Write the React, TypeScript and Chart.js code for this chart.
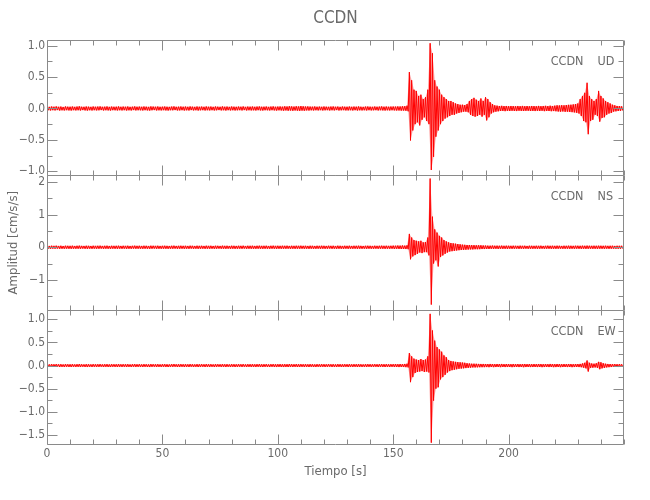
import React, { useEffect, useRef } from "react";
import { Chart, registerables } from "chart.js";

Chart.register(...registerables);

// ---------------- data ----------------
const TITLE = "CCDN";
const STATION = "CCDN";
const X_TITLE = "Tiempo [s]";
const Y_TITLE = "Amplitud [cm/s/s]";
const COMPONENTS = ["UD", "NS", "EW"];

// time axis (s)
const TIME_RANGE = [0, 250];
const BIN_SECONDS = 1; // each entry below = max / min of the trace within a 1 s bin
const X_MINOR_STEP = 10;
const X_TICK_VALUES = [0, 50, 100, 150, 200];
const X_TICK_LABELS = ["0", "50", "100", "150", "200"];

// y axes
const UD_RANGE = [-1.064, 1.085];
const UD_MINOR_STEP = 0.25;
const UD_TICK_VALUES = [-1, -0.5, 0, 0.5, 1];
const UD_TICK_LABELS = ["\u22121.0", "\u22120.5", "0.0", "0.5", "1.0"];

const NS_RANGE = [-1.93, 2.21];
const NS_MINOR_STEP = 0.5;
const NS_TICK_VALUES = [-1, 0, 1, 2];
const NS_TICK_LABELS = ["\u22121", "0", "1", "2"];

const EW_RANGE = [-1.72, 1.2];
const EW_MINOR_STEP = 0.25;
const EW_TICK_VALUES = [-1.5, -1, -0.5, 0, 0.5, 1];
const EW_TICK_LABELS = ["\u22121.5", "\u22121.0", "\u22120.5", "0.0", "0.5", "1.0"];

// UD component, upper / lower envelope per second (cm/s/s)
const UD_MAX = [
  0.030, 0.026, 0.031, 0.028, 0.033, 0.027, 0.030, 0.025, 0.032, 0.029,
  0.028, 0.031, 0.026, 0.030, 0.034, 0.028, 0.027, 0.031, 0.029, 0.026,
  0.031, 0.028, 0.030, 0.033, 0.027, 0.029, 0.032, 0.026, 0.030, 0.028,
  0.029, 0.032, 0.027, 0.030, 0.028, 0.031, 0.026, 0.029, 0.033, 0.028,
  0.030, 0.027, 0.031, 0.029, 0.026, 0.032, 0.030, 0.028, 0.031, 0.027,
  0.029, 0.031, 0.028, 0.026, 0.030, 0.033, 0.027, 0.029, 0.031, 0.028,
  0.030, 0.027, 0.032, 0.029, 0.026, 0.031, 0.028, 0.030, 0.027, 0.032,
  0.028, 0.030, 0.026, 0.031, 0.029, 0.027, 0.033, 0.028, 0.030, 0.026,
  0.031, 0.029, 0.027, 0.030, 0.028, 0.032, 0.026, 0.030, 0.029, 0.031,
  0.027, 0.030, 0.032, 0.028, 0.029, 0.031, 0.026, 0.030, 0.033, 0.028,
  0.030, 0.032, 0.029, 0.034, 0.031, 0.036, 0.033, 0.030, 0.035, 0.032,
  0.038, 0.034, 0.031, 0.033, 0.030, 0.029, 0.032, 0.028, 0.030, 0.027,
  0.031, 0.029, 0.027, 0.030, 0.032, 0.028, 0.030, 0.026, 0.031, 0.029,
  0.028, 0.031, 0.027, 0.030, 0.029, 0.032, 0.028, 0.026, 0.030, 0.031,
  0.029, 0.027, 0.031, 0.028, 0.030, 0.033, 0.029, 0.031, 0.028, 0.030,
  0.031, 0.030, 0.033, 0.032, 0.035, 0.036, 0.045, 0.58, 0.45, 0.30,
  0.28, 0.20, 0.22, 0.15, 0.18, 0.30, 1.04, 0.88, 0.45, 0.35,
  0.30, 0.22, 0.18, 0.15, 0.12, 0.12, 0.10, 0.08, 0.07, 0.06,
  0.06, 0.055, 0.07, 0.12, 0.15, 0.17, 0.14, 0.12, 0.16, 0.12,
  0.18, 0.15, 0.10, 0.07, 0.05, 0.045, 0.040, 0.042, 0.038, 0.040,
  0.036, 0.040, 0.038, 0.035, 0.040, 0.037, 0.041, 0.036, 0.039, 0.035,
  0.040, 0.038, 0.036, 0.041, 0.037, 0.040, 0.042, 0.038, 0.044, 0.040,
  0.045, 0.050, 0.048, 0.052, 0.050, 0.055, 0.058, 0.060, 0.065, 0.070,
  0.080, 0.15, 0.20, 0.25, 0.41, 0.20, 0.15, 0.12, 0.15, 0.28,
  0.20, 0.16, 0.12, 0.10, 0.08, 0.06, 0.05, 0.040, 0.038, 0.035,
];
const UD_MIN = [
  -0.028, -0.031, -0.027, -0.030, -0.026, -0.032, -0.029, -0.031, -0.027, -0.030,
  -0.032, -0.027, -0.030, -0.028, -0.031, -0.026, -0.030, -0.033, -0.028, -0.031,
  -0.027, -0.030, -0.029, -0.026, -0.031, -0.028, -0.030, -0.032, -0.027, -0.029,
  -0.031, -0.028, -0.030, -0.027, -0.032, -0.029, -0.031, -0.026, -0.030, -0.028,
  -0.029, -0.031, -0.027, -0.030, -0.033, -0.028, -0.026, -0.031, -0.029, -0.030,
  -0.027, -0.030, -0.032, -0.028, -0.029, -0.026, -0.031, -0.030, -0.027, -0.032,
  -0.029, -0.031, -0.026, -0.030, -0.028, -0.032, -0.029, -0.027, -0.031, -0.028,
  -0.030, -0.027, -0.031, -0.029, -0.026, -0.030, -0.028, -0.032, -0.027, -0.030,
  -0.028, -0.031, -0.029, -0.027, -0.030, -0.026, -0.031, -0.028, -0.030, -0.029,
  -0.031, -0.027, -0.030, -0.032, -0.028, -0.029, -0.031, -0.027, -0.030, -0.033,
  -0.029, -0.031, -0.034, -0.030, -0.035, -0.032, -0.036, -0.031, -0.034, -0.037,
  -0.033, -0.035, -0.030, -0.032, -0.029, -0.031, -0.028, -0.030, -0.027, -0.031,
  -0.029, -0.027, -0.031, -0.028, -0.030, -0.026, -0.031, -0.029, -0.027, -0.030,
  -0.030, -0.028, -0.031, -0.027, -0.032, -0.029, -0.030, -0.028, -0.031, -0.027,
  -0.030, -0.029, -0.027, -0.031, -0.028, -0.030, -0.032, -0.029, -0.031, -0.028,
  -0.030, -0.032, -0.031, -0.034, -0.033, -0.036, -0.045, -0.51, -0.35, -0.25,
  -0.22, -0.27, -0.18, -0.14, -0.20, -0.25, -0.98, -0.77, -0.45, -0.35,
  -0.25, -0.20, -0.16, -0.14, -0.12, -0.10, -0.10, -0.08, -0.07, -0.06,
  -0.05, -0.05, -0.06, -0.10, -0.12, -0.13, -0.12, -0.10, -0.13, -0.10,
  -0.19, -0.14, -0.08, -0.06, -0.05, -0.045, -0.040, -0.038, -0.042, -0.037,
  -0.040, -0.036, -0.039, -0.041, -0.035, -0.038, -0.040, -0.037, -0.036, -0.040,
  -0.038, -0.041, -0.037, -0.040, -0.036, -0.042, -0.039, -0.040, -0.043, -0.041,
  -0.044, -0.048, -0.050, -0.047, -0.052, -0.050, -0.055, -0.058, -0.062, -0.068,
  -0.080, -0.12, -0.20, -0.22, -0.41, -0.20, -0.18, -0.10, -0.12, -0.21,
  -0.15, -0.14, -0.10, -0.08, -0.07, -0.05, -0.045, -0.040, -0.037, -0.035,
];

// NS component
const NS_MAX = [
  0.045, 0.041, 0.047, 0.043, 0.048, 0.042, 0.046, 0.040, 0.047, 0.044,
  0.043, 0.047, 0.041, 0.045, 0.049, 0.043, 0.042, 0.046, 0.044, 0.041,
  0.046, 0.043, 0.045, 0.048, 0.042, 0.044, 0.047, 0.041, 0.045, 0.043,
  0.044, 0.047, 0.042, 0.045, 0.043, 0.046, 0.041, 0.044, 0.048, 0.043,
  0.045, 0.042, 0.046, 0.044, 0.041, 0.047, 0.045, 0.043, 0.046, 0.042,
  0.044, 0.046, 0.043, 0.041, 0.045, 0.048, 0.042, 0.044, 0.046, 0.043,
  0.045, 0.042, 0.047, 0.044, 0.041, 0.046, 0.043, 0.045, 0.042, 0.047,
  0.043, 0.045, 0.041, 0.046, 0.044, 0.042, 0.048, 0.043, 0.045, 0.041,
  0.046, 0.044, 0.042, 0.045, 0.043, 0.047, 0.041, 0.045, 0.044, 0.046,
  0.042, 0.045, 0.047, 0.043, 0.044, 0.046, 0.041, 0.045, 0.048, 0.043,
  0.045, 0.043, 0.046, 0.044, 0.047, 0.042, 0.045, 0.043, 0.046, 0.044,
  0.047, 0.043, 0.045, 0.042, 0.046, 0.044, 0.041, 0.045, 0.043, 0.046,
  0.044, 0.042, 0.046, 0.043, 0.045, 0.041, 0.047, 0.044, 0.042, 0.045,
  0.043, 0.046, 0.042, 0.045, 0.044, 0.047, 0.043, 0.041, 0.045, 0.046,
  0.044, 0.042, 0.046, 0.043, 0.045, 0.048, 0.044, 0.046, 0.043, 0.045,
  0.050, 0.048, 0.052, 0.050, 0.055, 0.050, 0.060, 0.41, 0.30, 0.22,
  0.20, 0.18, 0.20, 0.15, 0.16, 0.30, 2.11, 0.94, 0.55, 0.45,
  0.35, 0.30, 0.22, 0.18, 0.15, 0.13, 0.12, 0.11, 0.10, 0.09,
  0.080, 0.075, 0.070, 0.070, 0.065, 0.065, 0.060, 0.060, 0.060, 0.055,
  0.052, 0.050, 0.048, 0.051, 0.047, 0.049, 0.046, 0.050, 0.045, 0.048,
  0.046, 0.044, 0.047, 0.045, 0.043, 0.048, 0.044, 0.046, 0.042, 0.047,
  0.045, 0.043, 0.046, 0.044, 0.047, 0.042, 0.045, 0.048, 0.044, 0.046,
  0.043, 0.047, 0.045, 0.042, 0.046, 0.044, 0.048, 0.045, 0.043, 0.047,
  0.046, 0.044, 0.048, 0.045, 0.050, 0.046, 0.044, 0.047, 0.045, 0.048,
  0.046, 0.044, 0.047, 0.043, 0.045, 0.046, 0.042, 0.045, 0.044, 0.046,
];
const NS_MIN = [
  -0.043, -0.046, -0.042, -0.045, -0.041, -0.047, -0.044, -0.046, -0.042, -0.045,
  -0.047, -0.042, -0.045, -0.043, -0.046, -0.041, -0.045, -0.048, -0.043, -0.046,
  -0.042, -0.045, -0.044, -0.041, -0.046, -0.043, -0.045, -0.047, -0.042, -0.044,
  -0.046, -0.043, -0.045, -0.042, -0.047, -0.044, -0.046, -0.041, -0.045, -0.043,
  -0.044, -0.046, -0.042, -0.045, -0.048, -0.043, -0.041, -0.046, -0.044, -0.045,
  -0.042, -0.045, -0.047, -0.043, -0.044, -0.041, -0.046, -0.045, -0.042, -0.047,
  -0.044, -0.046, -0.041, -0.045, -0.043, -0.047, -0.044, -0.042, -0.046, -0.043,
  -0.045, -0.042, -0.046, -0.044, -0.041, -0.045, -0.043, -0.047, -0.042, -0.045,
  -0.043, -0.046, -0.044, -0.042, -0.045, -0.041, -0.046, -0.043, -0.045, -0.044,
  -0.046, -0.042, -0.045, -0.047, -0.043, -0.044, -0.046, -0.042, -0.045, -0.048,
  -0.044, -0.046, -0.043, -0.045, -0.042, -0.047, -0.044, -0.046, -0.043, -0.045,
  -0.042, -0.046, -0.044, -0.047, -0.043, -0.045, -0.046, -0.042, -0.045, -0.043,
  -0.045, -0.043, -0.041, -0.046, -0.044, -0.047, -0.043, -0.045, -0.046, -0.042,
  -0.046, -0.043, -0.045, -0.042, -0.047, -0.044, -0.045, -0.043, -0.046, -0.042,
  -0.045, -0.044, -0.042, -0.046, -0.043, -0.045, -0.047, -0.044, -0.046, -0.043,
  -0.050, -0.047, -0.050, -0.052, -0.050, -0.055, -0.060, -0.37, -0.28, -0.24,
  -0.20, -0.16, -0.18, -0.15, -0.15, -0.25, -1.76, -0.50, -0.40, -0.59,
  -0.30, -0.25, -0.20, -0.16, -0.13, -0.12, -0.11, -0.10, -0.09, -0.085,
  -0.080, -0.075, -0.070, -0.065, -0.065, -0.060, -0.060, -0.058, -0.055, -0.055,
  -0.050, -0.052, -0.047, -0.049, -0.046, -0.050, -0.045, -0.048, -0.046, -0.049,
  -0.044, -0.047, -0.045, -0.043, -0.048, -0.044, -0.046, -0.042, -0.047, -0.045,
  -0.046, -0.043, -0.047, -0.045, -0.042, -0.046, -0.044, -0.043, -0.047, -0.045,
  -0.047, -0.044, -0.042, -0.046, -0.045, -0.043, -0.047, -0.044, -0.046, -0.043,
  -0.045, -0.048, -0.044, -0.049, -0.046, -0.044, -0.047, -0.045, -0.048, -0.044,
  -0.045, -0.047, -0.043, -0.046, -0.044, -0.042, -0.046, -0.045, -0.043, -0.046,
];

// EW component
const EW_MAX = [
  0.028, 0.025, 0.030, 0.027, 0.031, 0.026, 0.029, 0.024, 0.030, 0.027,
  0.026, 0.030, 0.025, 0.028, 0.032, 0.027, 0.025, 0.029, 0.028, 0.025,
  0.030, 0.026, 0.028, 0.031, 0.025, 0.028, 0.030, 0.025, 0.029, 0.027,
  0.027, 0.031, 0.026, 0.028, 0.027, 0.030, 0.024, 0.028, 0.031, 0.026,
  0.029, 0.025, 0.030, 0.027, 0.025, 0.031, 0.028, 0.026, 0.030, 0.025,
  0.028, 0.030, 0.026, 0.025, 0.029, 0.032, 0.026, 0.028, 0.030, 0.027,
  0.028, 0.026, 0.031, 0.027, 0.025, 0.030, 0.027, 0.029, 0.026, 0.031,
  0.027, 0.029, 0.025, 0.030, 0.028, 0.026, 0.031, 0.027, 0.029, 0.025,
  0.030, 0.028, 0.026, 0.029, 0.027, 0.031, 0.025, 0.029, 0.028, 0.030,
  0.026, 0.029, 0.031, 0.027, 0.028, 0.030, 0.025, 0.029, 0.031, 0.027,
  0.029, 0.031, 0.027, 0.030, 0.028, 0.032, 0.029, 0.027, 0.031, 0.028,
  0.030, 0.027, 0.029, 0.026, 0.030, 0.028, 0.025, 0.029, 0.027, 0.030,
  0.028, 0.026, 0.030, 0.027, 0.029, 0.025, 0.031, 0.028, 0.026, 0.029,
  0.027, 0.030, 0.026, 0.029, 0.028, 0.031, 0.027, 0.025, 0.029, 0.030,
  0.028, 0.026, 0.030, 0.027, 0.029, 0.031, 0.028, 0.030, 0.027, 0.029,
  0.030, 0.032, 0.030, 0.033, 0.031, 0.035, 0.040, 0.27, 0.20, 0.15,
  0.13, 0.12, 0.14, 0.12, 0.13, 0.20, 1.12, 0.76, 0.54, 0.40,
  0.35, 0.30, 0.22, 0.18, 0.12, 0.10, 0.09, 0.08, 0.075, 0.07,
  0.065, 0.060, 0.050, 0.045, 0.040, 0.040, 0.038, 0.036, 0.035, 0.035,
  0.034, 0.032, 0.035, 0.033, 0.031, 0.034, 0.032, 0.035, 0.031, 0.033,
  0.032, 0.030, 0.034, 0.031, 0.033, 0.030, 0.032, 0.034, 0.031, 0.033,
  0.030, 0.033, 0.031, 0.034, 0.032, 0.030, 0.033, 0.031, 0.035, 0.032,
  0.031, 0.034, 0.032, 0.030, 0.033, 0.031, 0.034, 0.032, 0.030, 0.033,
  0.033, 0.036, 0.045, 0.060, 0.11, 0.060, 0.045, 0.040, 0.050, 0.080,
  0.070, 0.050, 0.040, 0.035, 0.033, 0.031, 0.032, 0.030, 0.031, 0.029,
];
const EW_MIN = [
  -0.027, -0.030, -0.026, -0.029, -0.025, -0.031, -0.028, -0.030, -0.026, -0.029,
  -0.031, -0.026, -0.029, -0.027, -0.030, -0.025, -0.029, -0.032, -0.027, -0.030,
  -0.026, -0.029, -0.028, -0.025, -0.030, -0.027, -0.029, -0.031, -0.026, -0.028,
  -0.030, -0.027, -0.029, -0.026, -0.031, -0.028, -0.030, -0.025, -0.029, -0.027,
  -0.028, -0.030, -0.026, -0.029, -0.032, -0.027, -0.025, -0.030, -0.028, -0.029,
  -0.026, -0.029, -0.031, -0.027, -0.028, -0.025, -0.030, -0.029, -0.026, -0.031,
  -0.028, -0.030, -0.025, -0.029, -0.027, -0.031, -0.028, -0.026, -0.030, -0.027,
  -0.029, -0.026, -0.030, -0.028, -0.025, -0.029, -0.027, -0.031, -0.026, -0.029,
  -0.027, -0.030, -0.028, -0.026, -0.029, -0.025, -0.030, -0.027, -0.029, -0.028,
  -0.030, -0.026, -0.029, -0.031, -0.027, -0.028, -0.030, -0.026, -0.029, -0.032,
  -0.028, -0.030, -0.032, -0.029, -0.031, -0.028, -0.030, -0.027, -0.031, -0.029,
  -0.027, -0.030, -0.028, -0.031, -0.027, -0.029, -0.030, -0.026, -0.029, -0.027,
  -0.029, -0.027, -0.025, -0.030, -0.028, -0.031, -0.027, -0.029, -0.030, -0.026,
  -0.030, -0.027, -0.029, -0.026, -0.031, -0.028, -0.029, -0.027, -0.030, -0.026,
  -0.029, -0.028, -0.026, -0.030, -0.027, -0.029, -0.031, -0.028, -0.030, -0.027,
  -0.030, -0.031, -0.033, -0.030, -0.032, -0.034, -0.040, -0.36, -0.25, -0.16,
  -0.14, -0.13, -0.12, -0.14, -0.13, -0.15, -1.67, -0.76, -0.50, -0.47,
  -0.30, -0.25, -0.20, -0.15, -0.12, -0.10, -0.09, -0.08, -0.07, -0.065,
  -0.060, -0.055, -0.050, -0.045, -0.040, -0.040, -0.038, -0.036, -0.035, -0.034,
  -0.033, -0.035, -0.031, -0.034, -0.032, -0.030, -0.034, -0.031, -0.033, -0.032,
  -0.031, -0.034, -0.032, -0.030, -0.033, -0.031, -0.035, -0.032, -0.030, -0.033,
  -0.032, -0.030, -0.033, -0.031, -0.034, -0.032, -0.030, -0.033, -0.031, -0.034,
  -0.033, -0.031, -0.034, -0.032, -0.030, -0.033, -0.031, -0.034, -0.032, -0.031,
  -0.033, -0.036, -0.045, -0.060, -0.13, -0.050, -0.045, -0.040, -0.050, -0.080,
  -0.060, -0.050, -0.040, -0.035, -0.032, -0.031, -0.030, -0.032, -0.029, -0.031,
];

// ---------------- styling ----------------
const FONT_FAMILY = "'Liberation Sans Narrow', 'DejaVu Sans Condensed', 'Liberation Sans', sans-serif";
const TEXT_COLOR = "#6a6a6a";
const AXIS_COLOR = "#8a8a8a";
const TRACE_COLOR = "#ff0000";
const ENVELOPE_FILL = "rgba(255, 0, 0, 0.35)";

type Panel = {
  id: string;
  comp: string;
  maxs: number[];
  mins: number[];
  range: number[];
  step: number;
  tickValues: number[];
  tickLabels: string[];
};

// top to bottom
const PANELS: Panel[] = [
  { id: "yUD", comp: COMPONENTS[0], maxs: UD_MAX, mins: UD_MIN, range: UD_RANGE, step: UD_MINOR_STEP, tickValues: UD_TICK_VALUES, tickLabels: UD_TICK_LABELS },
  { id: "yNS", comp: COMPONENTS[1], maxs: NS_MAX, mins: NS_MIN, range: NS_RANGE, step: NS_MINOR_STEP, tickValues: NS_TICK_VALUES, tickLabels: NS_TICK_LABELS },
  { id: "yEW", comp: COMPONENTS[2], maxs: EW_MAX, mins: EW_MIN, range: EW_RANGE, step: EW_MINOR_STEP, tickValues: EW_TICK_VALUES, tickLabels: EW_TICK_LABELS },
];

function lookupLabel(values: number[], labels: string[], v: number): string {
  const i = values.findIndex((t) => Math.abs(t - v) < 1e-6);
  return i >= 0 ? labels[i] : "";
}

function binTime(i: number) {
  return TIME_RANGE[0] + i * BIN_SECONDS;
}

// trace: max of each bin at its start, min half a bin later
function buildTrace(maxs: number[], mins: number[]) {
  const pts: { x: number; y: number }[] = [];
  for (let i = 0; i < maxs.length; i++) {
    pts.push({ x: binTime(i), y: maxs[i] });
    pts.push({ x: binTime(i) + BIN_SECONDS / 2, y: mins[i] });
  }
  return pts;
}
function buildUpper(maxs: number[]) {
  return maxs.map((v, i) => ({ x: binTime(i), y: v }));
}
function buildLower(mins: number[]) {
  return mins.map((v, i) => ({ x: binTime(i) + BIN_SECONDS / 2, y: v }));
}

const framePlugin = {
  id: "seisFrames",
  afterDatasetsDraw(chart: any) {
    const ctx = chart.ctx as CanvasRenderingContext2D;
    const area = chart.chartArea;
    const xs = chart.scales.x;
    const L = Math.round(area.left) + 0.5;
    const R = Math.round(area.right) - 0.5;
    ctx.save();
    ctx.strokeStyle = AXIS_COLOR;
    ctx.lineWidth = 1;
    PANELS.forEach((p, idx) => {
      const s = chart.scales[p.id];
      const T = Math.round(s.top) + 0.5;
      const B = idx === PANELS.length - 1 ? Math.round(s.bottom) - 0.5 : Math.round(s.bottom) + 0.5;
      ctx.beginPath();
      ctx.rect(L, T, R - L, B - T);
      // y ticks (inward, both sides)
      s.ticks.forEach((tk: any) => {
        const y = Math.round(s.getPixelForValue(tk.value)) + 0.5;
        const major = lookupLabel(p.tickValues, p.tickLabels, tk.value) !== "";
        const len = major ? 10 : 5;
        ctx.moveTo(L, y);
        ctx.lineTo(L + len, y);
        ctx.moveTo(R, y);
        ctx.lineTo(R - len, y);
      });
      // x ticks (inward, top and bottom of every panel)
      xs.ticks.forEach((tk: any) => {
        const x = Math.round(xs.getPixelForValue(tk.value)) + 0.5;
        const major = lookupLabel(X_TICK_VALUES, X_TICK_LABELS, tk.value) !== "";
        const len = major ? 10 : 5;
        ctx.moveTo(x, T);
        ctx.lineTo(x, T + len);
        ctx.moveTo(x, B);
        ctx.lineTo(x, B - len);
      });
      ctx.stroke();

      // station / component label
      ctx.fillStyle = TEXT_COLOR;
      ctx.font = `12.5px ${FONT_FAMILY}`;
      ctx.textBaseline = "middle";
      ctx.textAlign = "right";
      ctx.fillText(STATION, R - 40, T + 21);
      ctx.textAlign = "left";
      ctx.fillText(p.comp, R - 26, T + 21);
    });
    ctx.restore();
  },
};

export default function App() {
  const canvasRef = useRef<HTMLCanvasElement | null>(null);

  useEffect(() => {
    if (!canvasRef.current) return;

    const scales: any = {
      x: {
        type: "linear",
        position: "bottom",
        min: TIME_RANGE[0],
        max: TIME_RANGE[1],
        grid: { display: false, drawTicks: false },
        border: { display: false },
        ticks: {
          stepSize: X_MINOR_STEP,
          includeBounds: false,
          autoSkip: false,
          maxRotation: 0,
          padding: 2,
          color: TEXT_COLOR,
          font: { family: FONT_FAMILY, size: 12 },
          callback: (v: number) => lookupLabel(X_TICK_VALUES, X_TICK_LABELS, v),
        },
        title: {
          display: true,
          text: X_TITLE,
          color: TEXT_COLOR,
          font: { family: FONT_FAMILY, size: 13 },
          padding: { top: 0, bottom: 21 },
        },
        afterFit: (s: any) => {
          s.height = 55;
        },
      },
    };

    // later-defined stacked axes are placed on top, so add bottom panel first
    [...PANELS].reverse().forEach((p) => {
      scales[p.id] = {
        type: "linear",
        position: "left",
        stack: "panels",
        stackWeight: 1,
        min: p.range[0],
        max: p.range[1],
        grid: { display: false, drawTicks: false },
        border: { display: false },
        ticks: {
          stepSize: p.step,
          includeBounds: false,
          autoSkip: false,
          padding: 2,
          color: TEXT_COLOR,
          font: { family: FONT_FAMILY, size: 12 },
          callback: (v: number) => lookupLabel(p.tickValues, p.tickLabels, v),
        },
        title: {
          display: p.id === "yNS",
          text: Y_TITLE,
          color: TEXT_COLOR,
          font: { family: FONT_FAMILY, size: 13 },
          padding: { top: 6, bottom: 0 },
        },
        afterFit: (s: any) => {
          s.width = 47;
        },
      };
    });

    const datasets: any[] = [];
    PANELS.forEach((p) => {
      datasets.push({
        label: p.comp + " upper",
        data: buildUpper(p.maxs),
        xAxisID: "x",
        yAxisID: p.id,
        borderColor: "rgba(0,0,0,0)",
        borderWidth: 0,
        backgroundColor: ENVELOPE_FILL,
        pointRadius: 0,
        tension: 0,
        fill: "+1",
      });
      datasets.push({
        label: p.comp + " lower",
        data: buildLower(p.mins),
        xAxisID: "x",
        yAxisID: p.id,
        borderColor: "rgba(0,0,0,0)",
        borderWidth: 0,
        pointRadius: 0,
        tension: 0,
        fill: false,
      });
      datasets.push({
        label: p.comp,
        data: buildTrace(p.maxs, p.mins),
        xAxisID: "x",
        yAxisID: p.id,
        borderColor: TRACE_COLOR,
        borderWidth: 1,
        borderJoinStyle: "bevel",
        pointRadius: 0,
        tension: 0,
        fill: false,
      });
    });

    const chart = new Chart(canvasRef.current, {
      type: "line",
      data: { datasets },
      options: {
        animation: false,
        responsive: false,
        devicePixelRatio: 1,
        events: [],
        layout: { padding: { left: 0, right: 26, top: 0, bottom: 0 } },
        plugins: {
          legend: { display: false },
          tooltip: { enabled: false },
          title: {
            display: true,
            text: TITLE,
            color: TEXT_COLOR,
            fullSize: false,
            font: { family: FONT_FAMILY, size: 17, weight: "normal" },
            padding: { top: 8, bottom: 12 },
          },
        },
        scales,
      } as any,
      plugins: [framePlugin],
    });

    return () => chart.destroy();
  }, []);

  return (
    <div style={{ position: "fixed", left: 0, top: 0, width: 650, height: 500, background: "#fff" }}>
      <canvas ref={canvasRef} width={650} height={500} style={{ display: "block" }} />
    </div>
  );
}
